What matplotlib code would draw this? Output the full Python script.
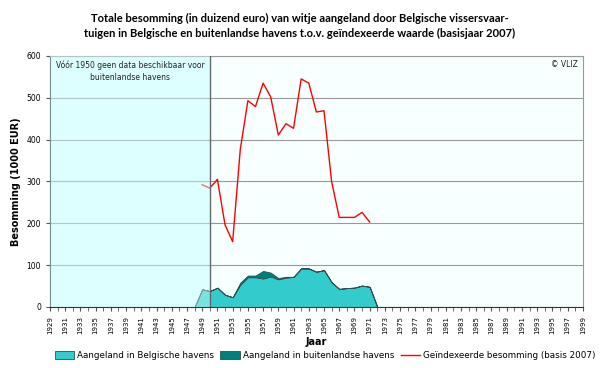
import numpy as np
import matplotlib.pyplot as plt
from matplotlib.ticker import MultipleLocator

# jaren met data (1929-1947 geen aanvoer)
years = list(range(1929, 1973))
belgisch = [0] * 19 + [0, 42, 38, 46, 29, 23, 53, 71, 71, 68, 73, 66, 70, 72,
                       92, 92, 84, 88, 59, 43, 45, 46, 51, 48, 0]
buitenlands = [0] * 19 + [0, 0, 0, 0, 0, 0, 5, 4, 4, 18, 9, 3, 2, 0,
                          0, 0, 0, 0, 0, 0, 0, 0, 0, 0, 0]
red_years = list(range(1949, 1972))
geindexeerd = [292, 284, 305, 196, 156, 376, 493, 479, 535, 502, 411, 438,
               427, 545, 535, 466, 469, 300, 214, 214, 214, 226, 203]

fig = plt.figure(figsize=(6, 3.68), dpi=100)
ax = fig.add_axes([0.0833, 0.166, 0.888, 0.682])
ax.set_facecolor('#f7ffff')

ax.stackplot(years, belgisch, buitenlands, colors=['#33cccc', '#007f7f'],
             edgecolor='#2f4f4f', linewidth=0.6,
             labels=['Aangeland in Belgische havens', 'Aangeland in buitenlandse havens'])
ax.plot(red_years, geindexeerd, color='red', linewidth=1.0,
        label='Geïndexeerde besomming (basis 2007)')

# gebied zonder data voor buitenlandse havens
ax.axvspan(1929, 1950, color='#e8ffff', zorder=0.5, lw=0)
ax.fill_between([1929, 1950], 0, 600, color='#d0ffff', alpha=0.45, zorder=5, lw=0)
ax.axvline(1950, color='#666666', linewidth=1.0, zorder=6)
ax.text(1939.5, 590, 'Vóór 1950 geen data beschikbaar voor\nbuitenlandse havens',
        ha='center', va='top', fontsize=5.5, color='#222222', zorder=7,
        linespacing=1.5)
ax.text(1998.3, 590, '© VLIZ', ha='right', va='top', fontsize=5.5, color='#222222')

ax.set_xlim(1929, 1999)
ax.set_ylim(0, 600)
ax.set_xticks(range(1929, 2000, 2))
ax.xaxis.set_minor_locator(MultipleLocator(1))
ax.tick_params(axis='x', which='both', labelsize=5, rotation=90, length=3,
               color='#555555', direction='out')
ax.tick_params(axis='y', labelsize=5.5, length=3, color='#555555')
ax.set_yticks(range(0, 601, 100))
ax.yaxis.grid(True, color='#999999', linewidth=0.8)
ax.set_axisbelow(True)
for s in ax.spines.values():
    s.set_color('#999999')
    s.set_linewidth(0.8)
ax.spines['left'].set_color('#333333')
ax.spines['bottom'].set_color('#333333')

ax.set_xlabel('Jaar', fontsize=7, fontweight='bold', labelpad=2)
ax.set_ylabel('Besomming (1000 EUR)', fontsize=7, fontweight='bold', labelpad=4)
fig.suptitle('Totale besomming (in duizend euro) van witje aangeland door Belgische vissersvaar-\n'
             'tuigen in Belgische en buitenlandse havens t.o.v. geïndexeerde waarde (basisjaar 2007)',
             fontsize=8, fontweight='bold', family='Lato', y=0.965, linespacing=1.45)

handles, labels = ax.get_legend_handles_labels()
fig.legend(handles, labels, loc='lower center', bbox_to_anchor=(0.542, 0.0), ncol=3,
           fontsize=6.3, frameon=False, handlelength=2.2, handleheight=0.9,
           columnspacing=0.7, handletextpad=0.4)

fig.savefig('out.png', dpi=100)
